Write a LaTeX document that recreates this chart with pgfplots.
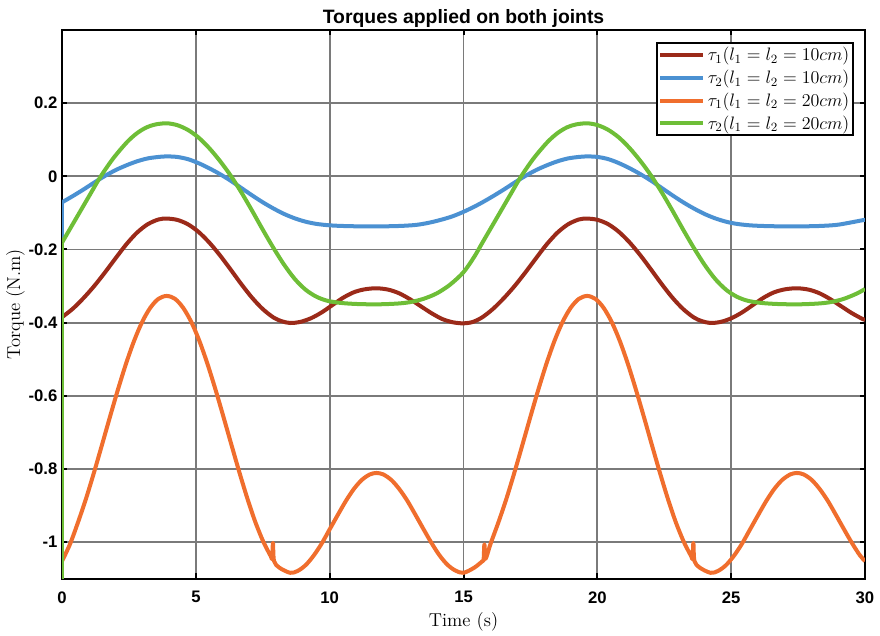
\RequirePackage{fix-cm}
\documentclass[border=0pt]{standalone}
\usepackage{fontspec}
\usepackage{pgfplots}
\pgfplotsset{compat=1.18}
\newfontfamily\arial{Liberation Sans}

\definecolor{tauA}{RGB}{155,42,25}
\definecolor{tauB}{RGB}{75,145,210}
\definecolor{tauC}{RGB}{240,110,45}
\definecolor{tauD}{RGB}{110,190,55}

\begin{document}
\begin{tikzpicture}
\begin{axis}[
  scale only axis,
  width=601.5pt, height=411pt,
  xmin=0, xmax=30, ymin=-1.1, ymax=0.4,
  xtick={0,5,10,15,20,25,30},
  xticklabels={0,5,10,15,20,25,30},
  ytick={-1,-0.8,-0.6,-0.4,-0.2,0,0.2},
  yticklabels={-1,-0.8,-0.6,-0.4,-0.2,0,0.2},
  ticklabel style={font=\arial\bfseries\fontsize{12.5}{14}\selectfont},
  xticklabel style={yshift=-6pt},
  grid=major,
  grid style={black!52, line width=1.4pt},
  axis line style={line width=1.5pt},
  tick align=inside,
  major tick length=4pt,
  tick style={black, line width=1.5pt},
  xlabel={Time (s)},
  ylabel={Torque (N.m)},
  label style={font=\fontsize{14}{16}\selectfont},
  ylabel style={yshift=-4pt},
  title={Torques applied on both joints},
  title style={font=\arial\bfseries\fontsize{14.5}{16}\selectfont, yshift=-7.5pt},
  legend style={at={(1,1)}, anchor=north east, xshift=-8pt, yshift=-9pt,
    draw=black, line width=1.5pt, inner sep=1pt, row sep=1.5pt,
    font=\fontsize{13.5}{15}\selectfont},
  legend cell align=left,
  legend image code/.code={\draw[#1] (0pt,0pt) -- (32pt,0pt);},
  every axis plot/.append style={line width=3pt, line join=round},
]
% tau1, l = 10 cm
\addplot[tauA, smooth] coordinates {
(0,-0.385) (0.4,-0.362) (0.8,-0.333) (1.2,-0.300) (1.6,-0.263) (2.0,-0.224) (2.4,-0.186)
(2.8,-0.154) (3.2,-0.131) (3.6,-0.118) (3.91,-0.1155) (4.3,-0.119) (4.7,-0.131) (5.1,-0.152)
(5.5,-0.181) (5.9,-0.216) (6.3,-0.255) (6.7,-0.295) (7.1,-0.332) (7.5,-0.363) (7.9,-0.386)
(8.2,-0.396) (8.52,-0.401) (8.9,-0.398) (9.3,-0.388) (9.7,-0.372) (10.1,-0.352) (10.5,-0.332)
(10.9,-0.317) (11.3,-0.309) (11.75,-0.306) (12.2,-0.310) (12.6,-0.320) (13.0,-0.336)
(13.4,-0.355) (13.8,-0.374) (14.2,-0.390) (14.6,-0.399) (15.0,-0.402) (15.35,-0.398)
(15.708,-0.385) (16.108,-0.362) (16.508,-0.333) (16.908,-0.300) (17.308,-0.263) (17.708,-0.224)
(18.108,-0.186) (18.508,-0.154) (18.908,-0.131) (19.308,-0.118) (19.618,-0.1155) (20.008,-0.119)
(20.408,-0.131) (20.808,-0.152) (21.208,-0.181) (21.608,-0.216) (22.008,-0.255) (22.408,-0.295)
(22.808,-0.332) (23.208,-0.363) (23.608,-0.386) (23.908,-0.396) (24.228,-0.401) (24.608,-0.398)
(25.008,-0.388) (25.408,-0.372) (25.808,-0.352) (26.208,-0.332) (26.608,-0.317) (27.008,-0.309)
(27.458,-0.306) (27.908,-0.310) (28.308,-0.320) (28.708,-0.336) (29.108,-0.355) (29.508,-0.374)
(29.908,-0.390) (30,-0.392)
};
\addlegendentry{$\tau_1(l_1=l_2=10cm)$}
% tau2, l = 10 cm
\addplot[tauB, forget plot] coordinates {(0,-0.175) (0,-0.071)};
\addplot[tauB, smooth] coordinates {
(0,-0.071) (0.4,-0.054) (0.8,-0.036) (1.2,-0.017) (1.6,0.001) (2.0,0.017) (2.4,0.030)
(2.8,0.041) (3.2,0.049) (3.6,0.053) (3.91,0.0545) (4.3,0.053) (4.7,0.047) (5.1,0.036)
(5.5,0.022) (5.9,0.006) (6.3,-0.012) (6.7,-0.032) (7.1,-0.052) (7.5,-0.071) (7.9,-0.088)
(8.3,-0.103) (8.7,-0.115) (9.1,-0.124) (9.5,-0.130) (10.0,-0.134) (10.6,-0.136) (11.5,-0.137)
(12.5,-0.136) (13.2,-0.133) (13.7,-0.127) (14.2,-0.118) (14.6,-0.109) (15.0,-0.097) (15.4,-0.083)
(15.708,-0.071) (16.108,-0.054) (16.508,-0.036) (16.908,-0.017) (17.308,0.001) (17.708,0.017)
(18.108,0.030) (18.508,0.041) (18.908,0.049) (19.308,0.053) (19.618,0.0545) (20.008,0.053)
(20.408,0.047) (20.808,0.036) (21.208,0.022) (21.608,0.006) (22.008,-0.012) (22.408,-0.032)
(22.808,-0.052) (23.208,-0.071) (23.608,-0.088) (24.008,-0.103) (24.408,-0.115) (24.808,-0.124)
(25.208,-0.130) (25.708,-0.134) (26.308,-0.136) (27.208,-0.137) (28.208,-0.136) (28.908,-0.133)
(29.408,-0.127) (29.908,-0.120) (30,-0.119)
};
\addlegendentry{$\tau_2(l_1=l_2=10cm)$}
% tau1, l = 20 cm
\addplot[tauC, smooth] coordinates {
(0,-1.052) (0.3,-1.005) (0.6,-0.945) (0.9,-0.880) (1.2,-0.808) (1.5,-0.732) (1.8,-0.655)
(2.1,-0.580) (2.4,-0.510) (2.7,-0.448) (3.0,-0.397) (3.3,-0.359) (3.6,-0.335) (3.91,-0.327)
(4.22,-0.335) (4.52,-0.359) (4.82,-0.397) (5.12,-0.448) (5.42,-0.510) (5.72,-0.580) (6.02,-0.655)
(6.32,-0.732) (6.62,-0.808) (6.92,-0.880) (7.22,-0.945) (7.52,-0.999) (7.8,-1.039) (7.85,-1.045)
(7.88,-1.002) (7.92,-1.052) (8.12,-1.070) (8.52,-1.084) (8.8,-1.079) (9.1,-1.063) (9.4,-1.037)
(9.7,-1.004) (10.0,-0.965) (10.3,-0.926) (10.6,-0.888) (10.9,-0.855) (11.2,-0.830) (11.5,-0.815)
(11.75,-0.811) (12.0,-0.815) (12.3,-0.830) (12.6,-0.855) (12.9,-0.887) (13.2,-0.925) (13.5,-0.964)
(13.8,-1.002) (14.1,-1.036) (14.4,-1.062) (14.7,-1.078) (15.0,-1.084) (15.4,-1.070)
(15.708,-1.052) (15.75,-1.048) (15.78,-1.006) (15.82,-1.046) (16.008,-1.005) (16.308,-0.945)
(16.608,-0.880) (16.908,-0.808) (17.208,-0.732) (17.508,-0.655) (17.808,-0.580) (18.108,-0.510)
(18.408,-0.448) (18.708,-0.397) (19.008,-0.359) (19.308,-0.335) (19.618,-0.327) (19.928,-0.335)
(20.228,-0.359) (20.528,-0.397) (20.828,-0.448) (21.128,-0.510) (21.428,-0.580) (21.728,-0.655)
(22.028,-0.732) (22.328,-0.808) (22.628,-0.880) (22.928,-0.945) (23.228,-0.999) (23.508,-1.039)
(23.558,-1.045) (23.588,-1.002) (23.628,-1.052) (23.828,-1.070) (24.228,-1.084) (24.508,-1.079)
(24.808,-1.063) (25.108,-1.037) (25.408,-1.004) (25.708,-0.965) (26.008,-0.926) (26.308,-0.888)
(26.608,-0.855) (26.908,-0.830) (27.208,-0.815) (27.458,-0.811) (27.708,-0.815) (28.008,-0.830)
(28.308,-0.855) (28.608,-0.887) (28.908,-0.925) (29.208,-0.964) (29.508,-1.002) (29.808,-1.036)
(30,-1.052)
};
\addlegendentry{$\tau_1(l_1=l_2=20cm)$}
% tau2, l = 20 cm
\addplot[tauD, forget plot] coordinates {(0,-1.12) (0,-0.181)};
\addplot[tauD, smooth] coordinates {
(0,-0.181) (0.35,-0.137) (0.7,-0.093) (1.05,-0.049) (1.42,-0.003) (1.9,0.048) (2.42,0.093)
(2.8,0.118) (3.16,0.134) (3.5,0.142) (3.91,0.145) (4.3,0.140) (4.7,0.127) (5.1,0.106)
(5.5,0.077) (5.9,0.042) (6.3,0.002) (6.7,-0.044) (7.1,-0.094) (7.5,-0.146) (7.9,-0.196)
(8.3,-0.242) (8.7,-0.281) (9.1,-0.310) (9.5,-0.329) (9.9,-0.340) (10.4,-0.346) (11.0,-0.349)
(11.75,-0.350) (12.5,-0.348) (13.0,-0.344) (13.5,-0.335) (14.0,-0.320) (14.5,-0.296)
(15.0,-0.262) (15.4,-0.220)
(15.708,-0.181) (16.058,-0.137) (16.408,-0.093) (16.758,-0.049) (17.128,-0.003) (17.608,0.048)
(18.128,0.093) (18.508,0.118) (18.868,0.134) (19.208,0.142) (19.618,0.145) (20.008,0.140)
(20.408,0.127) (20.808,0.106) (21.208,0.077) (21.608,0.042) (22.008,0.002) (22.408,-0.044)
(22.808,-0.094) (23.208,-0.146) (23.608,-0.196) (24.008,-0.242) (24.408,-0.281) (24.808,-0.310)
(25.208,-0.329) (25.608,-0.340) (26.108,-0.346) (26.708,-0.349) (27.458,-0.350) (28.208,-0.348)
(28.708,-0.344) (29.208,-0.335) (29.708,-0.320) (30,-0.308)
};
\addlegendentry{$\tau_2(l_1=l_2=20cm)$}
\end{axis}
\pgfresetboundingbox
\path[use as bounding box] ([shift={(-46.5pt,-42.75pt)}]current axis.south west)
  rectangle ([shift={(11.25pt,22.5pt)}]current axis.north east);
\end{tikzpicture}
\end{document}
